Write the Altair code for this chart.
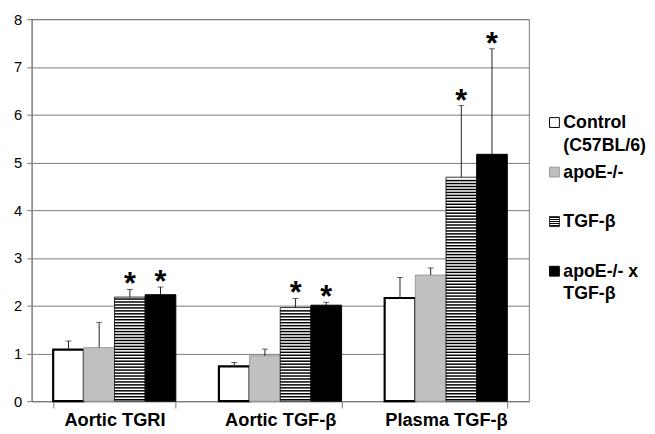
import altair as alt
import pandas as pd
import numpy as np

# ---- data ----
groups = ["Aortic TGRI", "Aortic TGF-β", "Plasma TGF-β"]
series = ["Control (C57BL/6)", "apoE-/-", "TGF-β", "apoE-/- x TGF-β"]
legend_labels = ["Control\n(C57BL/6)", "apoE-/-", "TGF-β", "apoE-/- x\nTGF-β"]

control_vals = [1.08, 0.73, 2.16]
apoe_vals = [1.12, 0.95, 2.64]
tgf_vals = [2.18, 1.96, 4.69]
double_vals = [2.23, 2.01, 5.17]

control_err = [1.26, 0.81, 2.59]
apoe_err = [1.65, 1.09, 2.79]
tgf_err = [2.34, 2.15, 6.19]
double_err = [2.39, 2.07, 7.38]

control_sig = [False, False, False]
apoe_sig = [False, False, False]
tgf_sig = [True, True, True]
double_sig = [True, True, True]

y_ticks = [0, 1, 2, 3, 4, 5, 6, 7, 8]

# ---- styles ----
fills = ["white", "#c0c0c0", "white", "black"]
strokes = ["black", "#9a9a9a", "#333333", "black"]
GRID = "#7a7a7a"
FONT = "Liberation Sans"

rows = []
for s, vals, errs, sigs in zip(series,
                               [control_vals, apoe_vals, tgf_vals, double_vals],
                               [control_err, apoe_err, tgf_err, double_err],
                               [control_sig, apoe_sig, tgf_sig, double_sig]):
    for g, v, e, sg in zip(groups, vals, errs, sigs):
        rows.append({"group": g, "series": s, "value": v, "err": e, "sig": sg})
df = pd.DataFrame(rows)

# horizontal stripe pattern for the TGF-β bars (derived from bar heights)
stripe_step = 0.062
stripe_thick = 0.031
stripe_rows = []
for g, v in zip(groups, tgf_vals):
    k = 0
    while (k + 1) * stripe_step <= v:
        lo = k * stripe_step + (stripe_step - stripe_thick) / 2
        stripe_rows.append({"group": g, "series": "TGF-β", "lo": lo, "hi": lo + stripe_thick})
        k += 1
stripes_df = pd.DataFrame(stripe_rows)

x_enc = alt.X("group:N", sort=groups,
              scale=alt.Scale(paddingInner=0.26, paddingOuter=0.13),
              axis=alt.Axis(title=None, labelAngle=0, tickBand="extent", tickSize=7,
                            labelPadding=3, labelFontSize=18.5, labelFontWeight="bold",
                            labelColor="black", labelFont=FONT, domainColor=GRID,
                            tickColor=GRID))
xo_enc = alt.XOffset("series:N", sort=series, scale=alt.Scale(paddingInner=0, paddingOuter=0))
y_scale = alt.Scale(domain=[0, 8], nice=False)
y_axis = alt.Axis(title=None, values=y_ticks, grid=True, gridColor=GRID, gridOpacity=1,
                  tickSize=5, tickColor=GRID, domainColor=GRID, labelPadding=5,
                  labelFontSize=15, labelColor="black", labelFont=FONT,
                  minExtent=18, maxExtent=18)

base = alt.Chart(df)

bars = base.mark_bar().encode(
    x=x_enc,
    xOffset=xo_enc,
    y=alt.Y("value:Q", scale=y_scale, axis=y_axis),
    fill=alt.Fill("series:N", scale=alt.Scale(domain=series, range=fills), legend=None),
    stroke=alt.Stroke("series:N", scale=alt.Scale(domain=series, range=strokes), legend=None),
    strokeWidth=alt.condition(alt.datum.series == "Control (C57BL/6)", alt.value(2.2), alt.value(1)),
)

stripes = alt.Chart(stripes_df).mark_bar(color="black").encode(
    x=alt.X("group:N", sort=groups),
    xOffset=alt.XOffset("series:N", sort=series),
    y=alt.Y("lo:Q"),
    y2="hi:Q",
)

err_rule = base.mark_rule(color="#222222", strokeWidth=1).encode(
    x=alt.X("group:N", sort=groups),
    xOffset=alt.XOffset("series:N", sort=series),
    y="value:Q",
    y2="err:Q",
)

err_cap = base.mark_tick(color="#222222", orient="horizontal", size=6, thickness=1).encode(
    x=alt.X("group:N", sort=groups),
    xOffset=alt.XOffset("series:N", sort=series),
    y="err:Q",
)

stars = base.transform_filter(alt.datum.sig).mark_text(
    text="*", fontSize=31, fontWeight="bold", baseline="alphabetic", dy=5,
    color="black", font=FONT,
).encode(
    x=alt.X("group:N", sort=groups),
    xOffset=alt.XOffset("series:N", sort=series),
    y="err:Q",
)

main = alt.layer(bars, stripes, err_rule, err_cap, stars).properties(
    width=505, height=388, view=alt.ViewBackground(stroke=GRID, strokeWidth=1)
)

# ---- legend panel ----
leg_df = pd.DataFrame({"series": series, "label": legend_labels})
leg_y = alt.Y("series:N", sort=series,
              scale=alt.Scale(type="point", range=[105, 256], padding=0), axis=None)

leg_sq = alt.Chart(leg_df).mark_square(size=100, opacity=1).encode(
    x=alt.value(18),
    y=leg_y,
    fill=alt.Fill("series:N", scale=alt.Scale(domain=series, range=fills), legend=None),
    stroke=alt.Stroke("series:N", scale=alt.Scale(domain=series, range=strokes), legend=None),
    strokeWidth=alt.value(1),
)

stops = []
n_str = 5
for i in range(n_str):
    a = i / n_str
    b = (i + 0.5) / n_str
    c = (i + 1) / n_str
    stops += [alt.GradientStop(offset=a, color="black"), alt.GradientStop(offset=b, color="black"),
              alt.GradientStop(offset=b, color="white"), alt.GradientStop(offset=c, color="white")]
striped = alt.LinearGradient(gradient="linear", stops=stops, x1=0, x2=0, y1=0, y2=1)

leg_sq_tgf = alt.Chart(leg_df).transform_filter(alt.datum.series == "TGF-β").mark_square(
    size=100, opacity=1, fill=striped, stroke="#333333", strokeWidth=1
).encode(x=alt.value(18), y=leg_y)

leg_text = alt.Chart(leg_df).mark_text(
    align="left", baseline="line-top", dy=-11.5, fontSize=18, fontWeight="bold",
    lineBreak="\n", lineHeight=23, color="black", font=FONT,
).encode(x=alt.value(27), y=leg_y, text="label:N")

legend = alt.layer(leg_sq, leg_sq_tgf, leg_text).properties(
    width=98, height=388, view=alt.ViewBackground(stroke="transparent")
)

chart = alt.hconcat(main, legend, spacing=6).properties(
    padding={"left": 5, "top": 0, "right": 0, "bottom": 0}
).configure(font=FONT).configure_view(stroke="transparent")

chart.save("out.html", embed_options={"renderer": "svg", "actions": False})
